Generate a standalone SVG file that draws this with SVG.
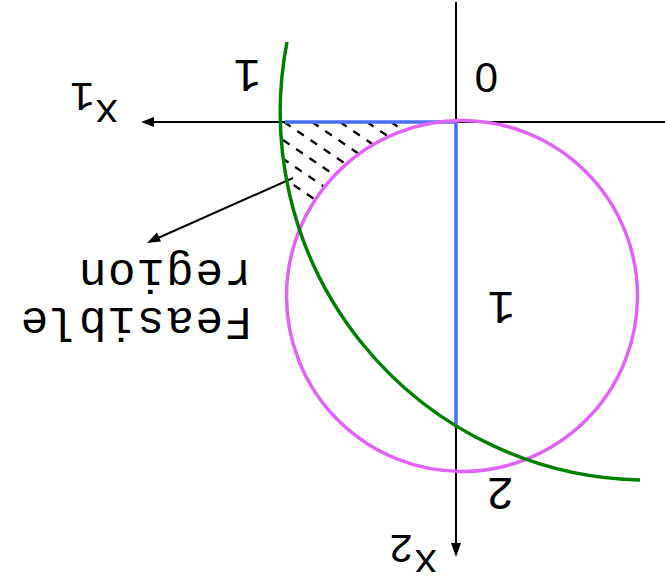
<svg xmlns="http://www.w3.org/2000/svg" width="665" height="585" viewBox="0 0 665 585">
<style>
.ax{stroke:#000;stroke-width:2;fill:none}
.hd{fill:#000;stroke:none}
.blue{stroke:#4a6ff5;stroke-width:3.5;fill:none}
.pink{stroke:#e064f4;stroke-width:3.5;fill:none}
.green{stroke:#008000;stroke-width:3.5;fill:none}
.hatch{stroke:#000;stroke-width:2.2;stroke-dasharray:8 8;fill:none}
.t{font-family:"Liberation Mono","DejaVu Sans Mono",monospace;font-size:46px;fill:#000}
.big{letter-spacing:1.5px}
.ax-t{font-size:41px}
.zero{font-family:"Liberation Sans","DejaVu Sans",sans-serif;font-size:42px;fill:#000}
</style>
<defs>
<clipPath id="feas">
<path d="M 283,122 L 462,121 A 175 175 0 0 0 300,231 A 368 368 0 0 1 280,122 Z"/>
</clipPath>
</defs>
<rect width="665" height="585" fill="#fff"/>
<g id="connectors">
<line class="ax" x1="665" y1="122" x2="152" y2="122"/>
<polygon class="hd" points="141,122 154,117 154,127"/>
<line class="ax" x1="456" y1="2" x2="456" y2="545"/>
<polygon class="hd" points="456,557 451,543 461,543"/>
<line class="ax" x1="293" y1="178" x2="158" y2="238"/>
<polygon class="hd" points="147,243 157,232.5 161,241.5"/>
</g>
<g id="hatching" clip-path="url(#feas)">
<line class="hatch" x1="201" y1="122" x2="401" y2="258"/>
<line class="hatch" x1="229" y1="122" x2="429" y2="258"/>
<line class="hatch" x1="256.5" y1="122" x2="456.5" y2="258"/>
<line class="hatch" x1="284" y1="122" x2="484" y2="258"/>
<line class="hatch" x1="312" y1="122" x2="512" y2="258"/>
<line class="hatch" x1="340" y1="122" x2="540" y2="258"/>
<line class="hatch" x1="367" y1="122" x2="567" y2="258"/>
<line class="hatch" x1="391" y1="122" x2="591" y2="258"/>
</g>
<g id="constraint-line">
<polyline class="blue" points="285,122 456,122 456,428"/>
</g>
<g id="circle">
<circle class="pink" cx="462" cy="296" r="175.5"/>
</g>
<g id="arc">
<path class="green" d="M 287,42 A 368 368 0 0 0 640,480"/>
</g>
<g id="labels" transform="rotate(180 332.5 292.5)">
<text class="t ax-t" x="546" y="485">x<tspan dy="17">1</tspan></text>
<text class="t ax-t" x="227" y="35">x<tspan dy="15">2</tspan></text>
<text class="zero" x="167" y="522">0</text>
<text class="t" x="404" y="525">1</text>
<text class="t" x="151" y="107">2</text>
<text class="t" x="150" y="293">1</text>
<g id="feasible-label">
<text class="t big" x="413" y="277">Feasible</text>
<text class="t big" x="413" y="325">region</text>
</g>
</g>
</svg>
